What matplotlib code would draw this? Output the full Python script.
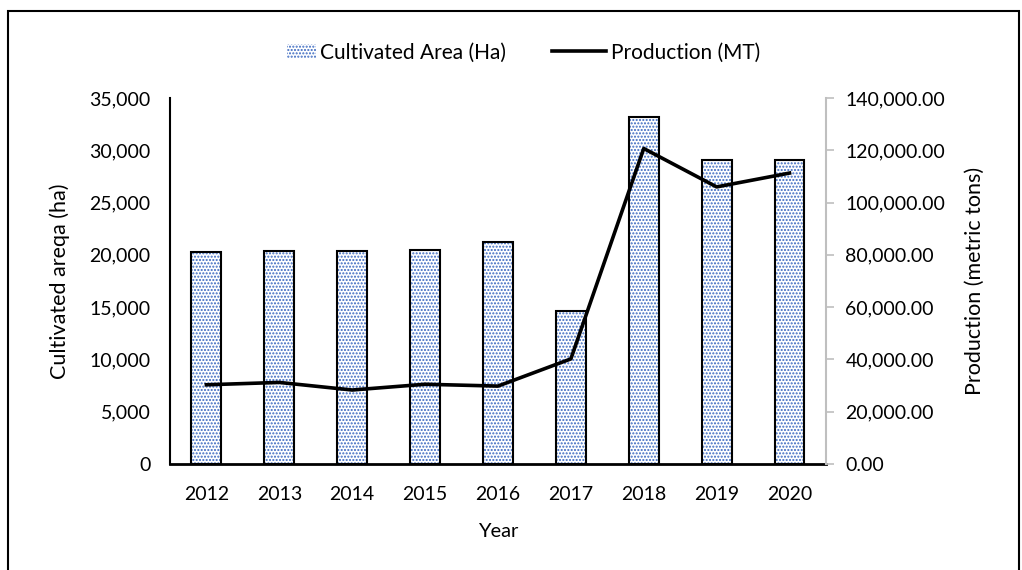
import matplotlib.pyplot as plt
from matplotlib.patches import Rectangle
from matplotlib.legend_handler import HandlerPatch
from matplotlib.ticker import FuncFormatter

plt.rcParams['font.family'] = ['Lato', 'DejaVu Sans']

years = ['2012', '2013', '2014', '2015', '2016', '2017', '2018', '2019', '2020']
area_ha = [20300, 20400, 20400, 20450, 21200, 14600, 33200, 29100, 29100]
production_mt = [30300, 31200, 28300, 30500, 29800, 40200, 120700, 106000, 111300]

fig = plt.figure(figsize=(10.22, 5.70), dpi=100)
ax = fig.add_axes([0.1663, 0.186, 0.6419, 0.642])
ax2 = ax.twinx()

x = range(len(years))
# dotted fill, then black outline on top
ax.bar(x, area_ha, width=0.41, color='white', edgecolor='#3A68C0',
       hatch='.....', linewidth=0, zorder=2)
ax.bar(x, area_ha, width=0.41, fill=False, edgecolor='black',
       linewidth=1.5, zorder=3)
line, = ax2.plot(x, production_mt, color='black', linewidth=2.6, zorder=4)

ax.set_xlim(-0.5, len(years) - 0.5)
ax.set_ylim(0, 35000)
ax.set_yticks(range(0, 35001, 5000))
ax.yaxis.set_major_formatter(FuncFormatter(lambda v, p: f'{int(v):,}'))
ax2.set_ylim(0, 140000)
ax2.set_yticks(range(0, 140001, 20000))
ax2.yaxis.set_major_formatter(FuncFormatter(lambda v, p: f'{v:,.2f}'))

ax.set_xticks(list(x))
ax.set_xticklabels(years)

for a in (ax, ax2):
    a.spines['top'].set_visible(False)
ax.spines['right'].set_visible(False)
ax2.spines['left'].set_visible(False)
ax2.spines['bottom'].set_visible(False)
ax.spines['left'].set_linewidth(1.5)
ax.spines['bottom'].set_linewidth(2)
ax2.spines['right'].set_color('#BFBFBF')
ax2.spines['right'].set_linewidth(1.5)

ax.tick_params(axis='y', length=0, labelsize=14, pad=14)
ax.tick_params(axis='x', length=0, labelsize=14, pad=16)
ax2.tick_params(axis='y', length=6, width=1.2, color='#BFBFBF', labelsize=14, pad=8)

ax.set_xlabel('Year', fontsize=14.5, labelpad=14)
ax.set_ylabel('Cultivated areqa (ha)', fontsize=15.5, labelpad=14)
ax2.set_ylabel('Production (metric tons)', fontsize=15.5, labelpad=14)


def small_box(legend, orig_handle, xdescent, ydescent, width, height, fontsize):
    # narrow dotted swatch, like the reference legend
    return Rectangle((width - 0.55 * width - xdescent, -ydescent), 0.55 * width, height)


area_handle = Rectangle((0, 0), 1, 1, facecolor='white', edgecolor='#3A68C0', hatch='.....', linewidth=0)
fig.legend([area_handle, line], ['Cultivated Area (Ha)', 'Production (MT)'],
           loc='center', bbox_to_anchor=(0.5, 0.908), ncol=2, frameon=False,
           fontsize=15, handlelength=2.6, handletextpad=0.2, columnspacing=2.2,
           handler_map={Rectangle: HandlerPatch(patch_func=small_box)})

fig.patches.append(Rectangle((8 / 1022, -0.05), 1011 / 1022, 1.03, transform=fig.transFigure,
                             fill=False, edgecolor='black', linewidth=1.5))

fig.savefig('out.png', dpi=100)
